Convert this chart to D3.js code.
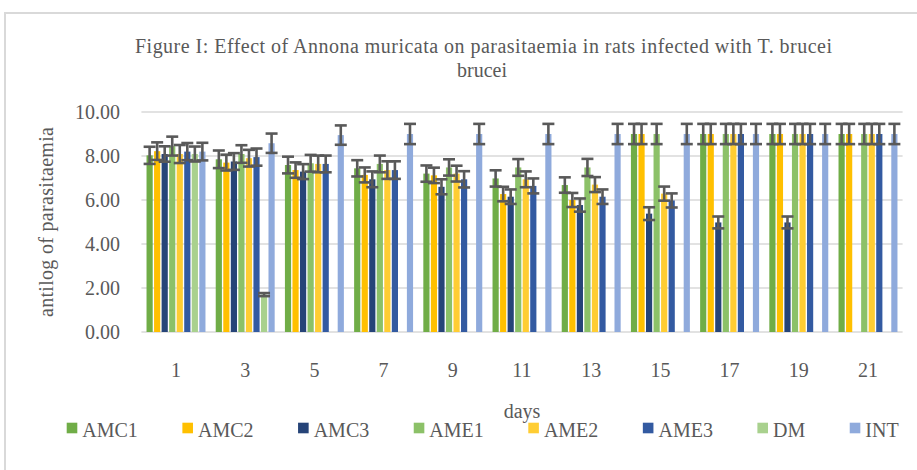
<!DOCTYPE html>
<html><head><meta charset="utf-8">
<script src="https://cdn.jsdelivr.net/npm/d3@7"></script>
<style>body{margin:0;background:#fff}svg{display:block}text{font-family:"Liberation Serif","Times New Roman",serif;fill:#595959}</style>
</head><body>
<svg id="c" width="917" height="470"></svg>
<script>
const days = ["1","3","5","7","9","11","13","15","17","19","21"];
const seriesNames = ["AMC1","AMC2","AMC3","AME1","AME2","AME3","DM","INT"];
const seriesColors = ["#70AD47","#FFC000","#264478","#8CC168","#FFCD33","#335AA1","#A9D18E","#8FAADC"];
const AMC1 = [8.03, 7.85, 7.59, 7.44, 7.20, 6.98, 6.68, 9.0, 9.0, 9.0, 9.0];
const AMC2 = [8.22, 7.70, 7.36, 7.14, 7.12, 6.27, 6.00, 9.0, 9.0, 9.0, 9.0];
const AMC3 = [8.09, 7.75, 7.29, 6.94, 6.60, 6.15, 5.77, 5.38, 4.98, 4.98, 0];
const AME1 = [8.45, 8.09, 7.67, 7.64, 7.48, 7.48, 7.48, 9.0, 9.0, 9.0, 9.0];
const AME2 = [8.09, 7.90, 7.64, 7.36, 7.20, 6.94, 6.70, 6.29, 9.0, 9.0, 9.0];
const AME3 = [8.20, 7.95, 7.64, 7.36, 6.94, 6.64, 6.15, 5.98, 9.0, 9.0, 9.0];
const DM   = [8.09, 1.70, 0, 0, 0, 0, 0, 0, 0, 0, 0];
const INT  = [8.20, 8.58, 8.95, 9.0, 9.0, 9.0, 9.0, 9.0, 9.0, 9.0, 9.0];
const errAMC1 = [0.39, 0.40, 0.38, 0.37, 0.37, 0.37, 0.35, 0.46, 0.46, 0.46, 0.46];
const errAMC2 = [0.40, 0.36, 0.35, 0.34, 0.35, 0.33, 0.32, 0.46, 0.46, 0.46, 0.46];
const errAMC3 = [0.35, 0.38, 0.34, 0.36, 0.34, 0.33, 0.30, 0.29, 0.27, 0.27, 0];
const errAME1 = [0.43, 0.40, 0.38, 0.38, 0.37, 0.38, 0.39, 0.46, 0.46, 0.46, 0.46];
const errAME2 = [0.41, 0.38, 0.38, 0.40, 0.36, 0.36, 0.34, 0.32, 0.46, 0.46, 0.46];
const errAME3 = [0.39, 0.39, 0.38, 0.40, 0.37, 0.34, 0.33, 0.32, 0.46, 0.46, 0.46];
const errDM   = [0.34, 0.07, 0, 0, 0, 0, 0, 0, 0, 0, 0];
const errINT  = [0.40, 0.44, 0.44, 0.46, 0.46, 0.46, 0.46, 0.46, 0.46, 0.46, 0.46];
const yTicks = [0, 2, 4, 6, 8, 10];
const title1 = "Figure I: Effect of Annona muricata on parasitaemia in rats infected with T. brucei";
const title2 = "brucei";
const yTitle = "antilog of parasitaemia";
const xTitle = "days";

const values = [AMC1, AMC2, AMC3, AME1, AME2, AME3, DM, INT];
const errors = [errAMC1, errAMC2, errAMC3, errAME1, errAME2, errAME3, errDM, errINT];

const svg = d3.select("#c");
// outer frame
svg.append("rect").attr("x",5).attr("y",13).attr("width",1000).attr("height",1000)
  .attr("fill","none").attr("stroke","#D9D9D9").attr("stroke-width",2);

const x = d3.scaleBand().domain(days).range([141.4, 902.6]).paddingInner(0).paddingOuter(0);
const xs = d3.scaleBand().domain(seriesNames).range([0, x.bandwidth()]).paddingInner(0.18).paddingOuter(0.68);
const y = d3.scaleLinear().domain([0, 10]).range([332, 112]);

// gridlines
svg.append("g").selectAll("line").data(yTicks).join("line")
  .attr("x1", 141.4).attr("x2", 902.6)
  .attr("y1", d => y(d)).attr("y2", d => y(d))
  .attr("stroke", "#D9D9D9").attr("stroke-width", 1.5);

// y tick labels
svg.append("g").selectAll("text").data(yTicks).join("text")
  .attr("x", 120).attr("y", d => y(d)).attr("dy", "0.35em")
  .attr("text-anchor", "end").attr("font-size", 20)
  .text(d => d3.format(".2f")(d));

// bars
const groups = svg.append("g").selectAll("g").data(seriesNames).join("g")
  .attr("fill", (d,i) => seriesColors[i]);
groups.selectAll("rect").data((s,i) => days.map((d,j) => ({day:d, s, v: values[i][j], e: errors[i][j]})))
  .join("rect")
  .attr("x", d => x(d.day) + xs(d.s))
  .attr("width", xs.bandwidth())
  .attr("y", d => y(d.v))
  .attr("height", d => y(0) - y(d.v));

// error bars
const errData = [];
seriesNames.forEach((s,i) => days.forEach((d,j) => {
  if (values[i][j] > 0) errData.push({day:d, s, v: values[i][j], e: errors[i][j]});
}));
const eg = svg.append("g").attr("stroke", "#595959").attr("stroke-width", 2.6).attr("fill","none");
errData.forEach(d => {
  const cx = x(d.day) + xs(d.s) + xs.bandwidth()/2;
  const y1 = y(d.v + d.e), y2 = y(d.v - d.e);
  eg.append("line").attr("x1", cx).attr("x2", cx).attr("y1", y1).attr("y2", y2);
  eg.append("line").attr("x1", cx-6).attr("x2", cx+6).attr("y1", y1).attr("y2", y1);
  eg.append("line").attr("x1", cx-6).attr("x2", cx+6).attr("y1", y2).attr("y2", y2);
});

// x labels
svg.append("g").selectAll("text").data(days).join("text")
  .attr("x", d => x(d) + x.bandwidth()/2).attr("y", 370).attr("dy","0.35em")
  .attr("text-anchor","middle").attr("font-size", 20).text(d => d);

// titles
svg.append("text").attr("x", 135).attr("y", 53).attr("font-size", 20)
  .attr("textLength", 697).attr("lengthAdjust", "spacing").text(title1);
svg.append("text").attr("x", 482).attr("y", 77).attr("text-anchor","middle").attr("font-size", 20).text(title2);
svg.append("text").attr("transform","translate(53,222) rotate(-90)").attr("x", -95).attr("font-size", 20)
  .attr("textLength", 190).attr("lengthAdjust", "spacing").text(yTitle);
svg.append("text").attr("x", 522).attr("y", 418).attr("text-anchor","middle").attr("font-size", 20).text(xTitle);

// legend
const leg = svg.append("g");
let lx = 66.7;
seriesNames.forEach((s,i) => {
  leg.append("rect").attr("x", lx).attr("y", 422.7).attr("width", 10.6).attr("height", 10.6).attr("fill", seriesColors[i]);
  const t = leg.append("text").attr("x", lx + 15.6).attr("y", 437).attr("font-size", 20).text(s);
  lx += 15.6 + t.node().getComputedTextLength() + 44.5;
});
</script>
</body></html>
